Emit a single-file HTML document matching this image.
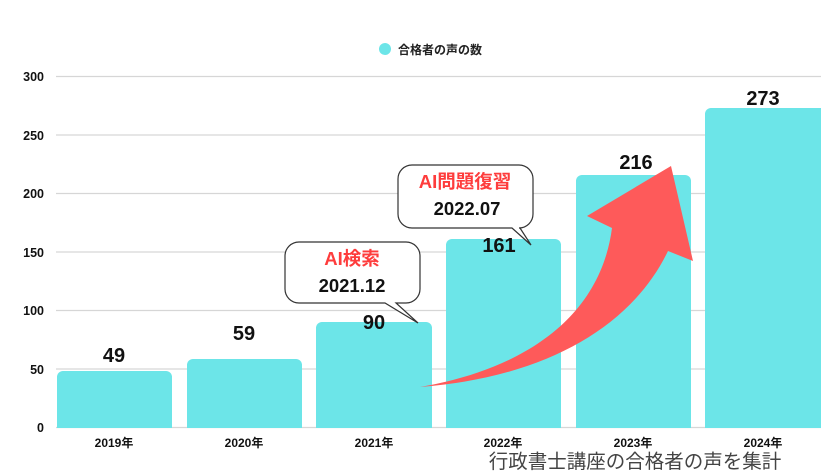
<!DOCTYPE html>
<html><head><meta charset="utf-8"><style>
body{margin:0;background:#fff;}
svg{display:block;font-family:"Liberation Sans","Noto Sans CJK JP",sans-serif;}
</style></head><body>
<svg width="840" height="473" viewBox="0 0 840 473">
<g stroke="#d6d6d6" stroke-width="1.3">
<line x1="56" x2="821" y1="76.5" y2="76.5"/><line x1="56" x2="821" y1="135" y2="135"/><line x1="56" x2="821" y1="193.5" y2="193.5"/><line x1="56" x2="821" y1="252" y2="252"/><line x1="56" x2="821" y1="310.5" y2="310.5"/><line x1="56" x2="821" y1="369" y2="369"/><line x1="56" x2="821" y1="427.5" y2="427.5"/>
</g>
<g font-size="12.5" font-weight="bold" fill="#111" text-anchor="end">
<text x="44" y="81">300</text><text x="44" y="140">250</text><text x="44" y="198">200</text><text x="44" y="257">150</text><text x="44" y="315">100</text><text x="44" y="374">50</text><text x="44" y="432">0</text>
</g>
<circle cx="385" cy="49" r="6" fill="#6ce5e8"/>
<text x="398" y="54" font-size="12" font-weight="bold" fill="#222">合格者の声の数</text>
<g fill="#6ce5e8">
<path d="M57,428V377a6,6 0 0 1 6,-6H166a6,6 0 0 1 6,6V428Z"/>
<path d="M187,428V365a6,6 0 0 1 6,-6H296a6,6 0 0 1 6,6V428Z"/>
<path d="M316,428V328a6,6 0 0 1 6,-6H426a6,6 0 0 1 6,6V428Z"/>
<path d="M446,428V245a6,6 0 0 1 6,-6H555a6,6 0 0 1 6,6V428Z"/>
<path d="M576,428V181a6,6 0 0 1 6,-6H685a6,6 0 0 1 6,6V428Z"/>
<path d="M705,428V114a6,6 0 0 1 6,-6H821V428Z"/>
</g>
<g font-size="20" font-weight="bold" fill="#111" text-anchor="middle">
<text x="114" y="362">49</text><text x="244" y="340">59</text><text x="374" y="329">90</text><text x="499" y="252">161</text><text x="636" y="169">216</text><text x="763" y="105">273</text>
</g>
<g font-size="12" font-weight="bold" fill="#111" text-anchor="middle">
<text x="114" y="447">2019年</text><text x="244" y="447">2020年</text><text x="374" y="447">2021年</text><text x="503" y="447">2022年</text><text x="633" y="447">2023年</text><text x="763" y="447">2024年</text>
</g>
<path d="M420,387 C520,370 600,320 612,228 L587,216 L671,166 L693,261 L668,251 C630,330 540,378 420,387 Z" fill="#fe5a5a"/>
<path d="M299,242H406a14,14 0 0 1 14,14V289a14,14 0 0 1 -14,14H396L418,323L385,303H299a14,14 0 0 1 -14,-14V256a14,14 0 0 1 14,-14Z" fill="#fff" stroke="#333" stroke-width="1.2"/>
<path d="M412,165H519a14,14 0 0 1 14,14V214a14,14 0 0 1 -14,14H520L531,245L512,228H412a14,14 0 0 1 -14,-14V179a14,14 0 0 1 14,-14Z" fill="#fff" stroke="#333" stroke-width="1.2"/>
<g font-size="18.5" font-weight="bold" text-anchor="middle">
<text x="352" y="265" fill="#fe3c3c">AI検索</text><text x="352" y="292" fill="#111">2021.12</text>
<text x="465" y="188" fill="#fe3c3c">AI問題復習</text><text x="467" y="215" fill="#111">2022.07</text>
</g>
<text x="635" y="468" font-size="19.5" fill="#444" text-anchor="middle">行政書士講座の合格者の声を集計</text>
</svg>
</body></html>
